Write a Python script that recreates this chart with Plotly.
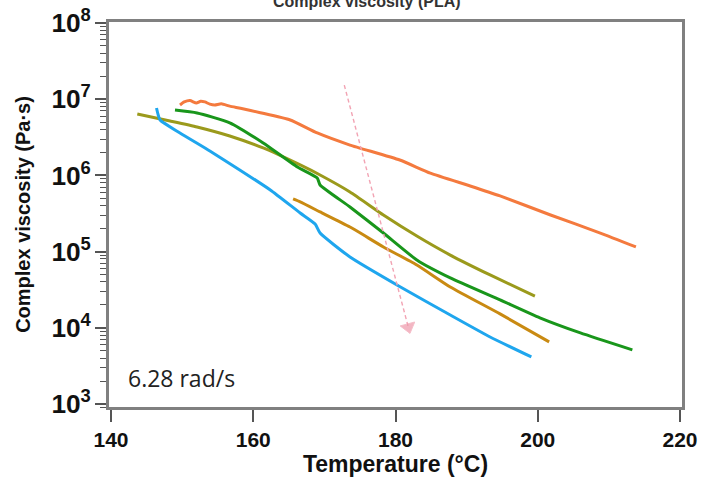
import plotly.graph_objects as go

# ---- data (temperature in °C, complex viscosity in Pa·s) ----
orange_T = [149.7, 150.3, 151.1, 152.0, 152.6, 153.2, 153.9, 154.6, 155.5, 156.7, 158.2, 161.0, 165.2, 169.0, 173.6, 180.6, 184.9, 190.5, 194.7, 201.8, 208.8, 213.8]
orange_eta = [8.4e6, 9.2e6, 9.6e6, 8.9e6, 9.4e6, 9.2e6, 8.6e6, 8.4e6, 8.7e6, 8.1e6, 7.6e6, 6.65e6, 5.33e6, 3.6e6, 2.5e6, 1.59e6, 1.07e6, 7.26e5, 5.37e5, 3.02e5, 1.75e5, 1.15e5]

blue_T = [146.4, 146.6, 146.9, 149.7, 153.9, 158.1, 162.4, 166.6, 168.7, 169.4, 173.6, 180.7, 187.7, 193.3, 199.1]
blue_eta = [7.67e6, 6.4e6, 5.33e6, 3.6e6, 2.09e6, 1.18e6, 6.43e5, 3.21e5, 2.3e5, 1.75e5, 8.5e4, 3.43e4, 1.47e4, 7.57e3, 4.14e3]

green_T = [149.0, 152.1, 156.7, 161.4, 166.2, 169.0, 169.4, 173.6, 178.3, 183.0, 187.7, 194.7, 200.3, 206.0, 213.3]
green_eta = [7.2e6, 6.6e6, 4.9e6, 2.66e6, 1.29e6, 9.25e5, 7.48e5, 3.85e5, 1.75e5, 7.76e4, 4.51e4, 2.32e4, 1.35e4, 8.55e3, 5.12e3]

olive_T = [143.7, 148.3, 152.1, 156.7, 161.4, 166.6, 169.4, 173.6, 178.3, 183.0, 187.7, 193.3, 199.6]
olive_eta = [6.4e6, 5.18e6, 4.32e6, 3.29e6, 2.29e6, 1.37e6, 1.01e6, 6.05e5, 3.02e5, 1.6e5, 9.0e4, 4.93e4, 2.61e4]

gold_T = [165.6, 166.6, 169.4, 173.6, 178.3, 183.0, 187.7, 194.7, 201.6]
gold_eta = [4.9e5, 4.48e5, 3.31e5, 2.1e5, 1.15e5, 6.67e4, 3.43e4, 1.52e4, 6.52e3]

arrow_T = [172.8, 181.8]
arrow_eta = [1.53e7, 1.02e4]

x_ticks = [140, 160, 180, 200, 220]

fig = go.Figure()

series = [
    (orange_T, orange_eta, "#F47A3E"),
    (olive_T, olive_eta, "#9B9A1C"),
    (gold_T, gold_eta, "#C98A12"),
    (green_T, green_eta, "#19961B"),
    (blue_T, blue_eta, "#1FA6EE"),
]
for T, eta, col in series:
    fig.add_trace(go.Scatter(x=T, y=eta, mode="lines",
                             line=dict(color=col, width=3, shape="spline", smoothing=0.5),
                             showlegend=False, hoverinfo="skip"))

fig.add_trace(go.Scatter(
    x=arrow_T, y=arrow_eta, mode="lines+markers",
    line=dict(color="#F2A3B3", width=1.4, dash="4px,3px"),
    marker=dict(symbol=["circle", "triangle-down"], size=[0, 13],
                angle=[0, -15], color="#EE98AA"),
    showlegend=False, hoverinfo="skip"))

tick_font = dict(family="Arial, Liberation Sans, sans-serif", size=21,
                 color="#111111", weight="bold")
xt_font = dict(family="Arial, Liberation Sans, sans-serif", size=23,
               color="#111111", weight="bold")
yt_font = dict(family="Arial, Liberation Sans, sans-serif", size=20,
               color="#111111", weight="bold")

fig.update_layout(
    width=702, height=482,
    margin=dict(l=108, r=19, t=21, b=74),
    paper_bgcolor="white", plot_bgcolor="white",
    xaxis=dict(range=[139.58, 220.42], tickvals=x_ticks, automargin=False,
               ticklabeloverflow="allow",
               ticks="outside", ticklen=12, tickwidth=1.5, tickcolor="#555555",
               showline=True, linecolor="#808080", linewidth=2, mirror=True,
               showgrid=False, zeroline=False,
               tickfont=tick_font,
               title=dict(text="Temperature (°C)", font=xt_font, standoff=2)),
    yaxis=dict(type="log", range=[2.947, 8.026], dtick=1, automargin=False,
               ticklabeloverflow="allow",
               exponentformat="power",
               ticks="outside", ticklen=11, tickwidth=2, tickcolor="#555555",
               minor=dict(ticks="outside", ticklen=6, tickwidth=1.3,
                          tickcolor="#555555", dtick="D1", showgrid=False),
               showline=True, linecolor="#808080", linewidth=2, mirror=True,
               showgrid=False, zeroline=False,
               tickfont=tick_font,
               title=dict(text="Complex viscosity (Pa·s)", font=yt_font, standoff=15)),
    shapes=[dict(type="rect", xref="paper", yref="paper", x0=0, x1=1, y0=0, y1=1,
                 line=dict(color="#808080", width=2), layer="above")],
    annotations=[
        dict(text="6.28 rad/s", xref="paper", yref="paper", x=0.031, y=0.078,
             xanchor="left", yanchor="middle", showarrow=False,
             font=dict(family="Open Sans, sans-serif", size=23, color="#222222")),
        dict(text="Complex viscosity (PLA)", xref="paper", yref="paper",
             x=0.45, y=1.0504, xanchor="center", yanchor="middle", showarrow=False,
             font=dict(family="Arial, Liberation Sans, sans-serif", size=16,
                       color="#333333", weight="bold")),
    ],
)

fig.write_html("out.html", config={"displayModeBar": False},
               post_script="document.body.style.margin='0';document.body.style.overflow='hidden';")
